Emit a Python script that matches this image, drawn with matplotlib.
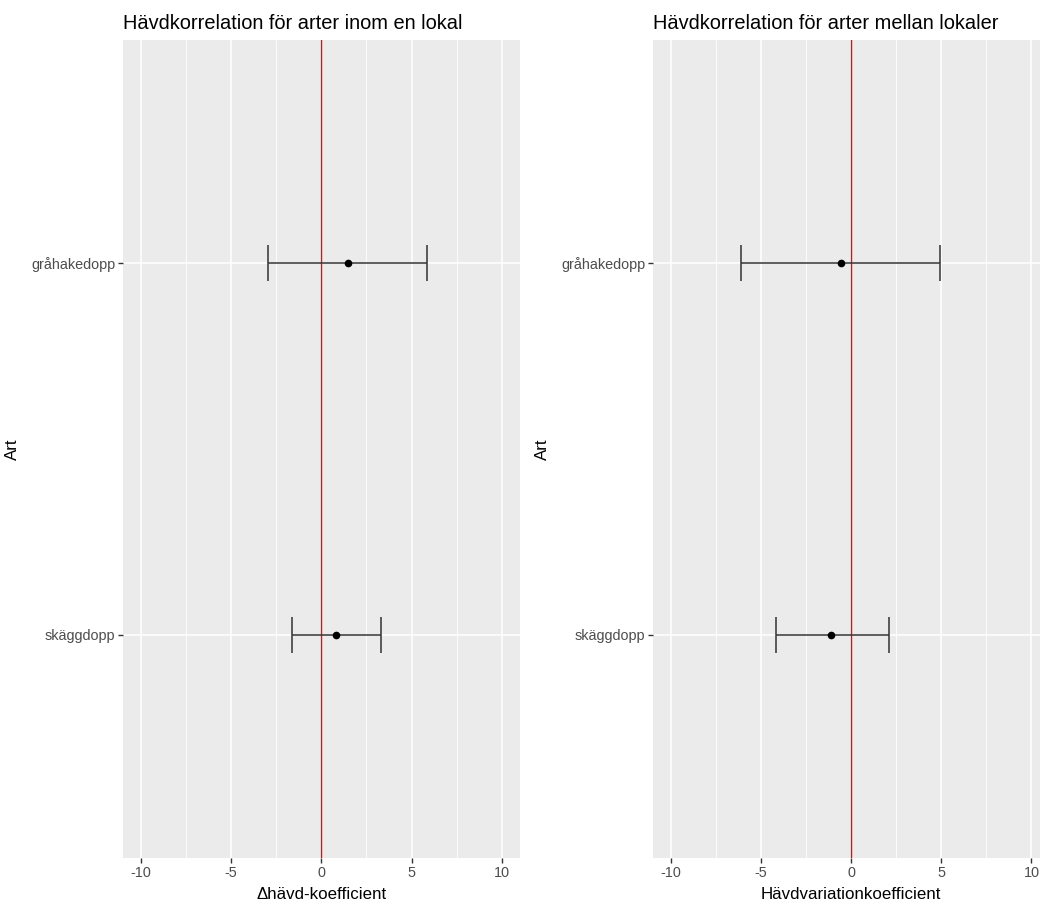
import numpy as np
import matplotlib.pyplot as plt

plt.rcParams['font.family'] = ['Liberation Sans', 'DejaVu Sans']

# species (bottom to top, as ggplot orders them)
arter = ['skäggdopp', 'gråhakedopp']

# left panel: within-site correlation
inom_est = [0.83, 1.47]
inom_low = [-1.63, -2.93]
inom_high = [3.28, 5.87]

# right panel: between-site correlation
mellan_est = [-1.09, -0.54]
mellan_low = [-4.17, -6.13]
mellan_high = [2.10, 4.94]

titles = ['Hävdkorrelation för arter inom en lokal', 'Hävdkorrelation för arter mellan lokaler']
xlabels = ['\u0394hävd-koefficient', 'Hävdvariationkoefficient']

fig = plt.figure(figsize=(10.4, 9.01), dpi=100)
W, H = 1040, 901
panels = [(122.7, 520.0), (652.7, 1049.5)]
top, bottom = 40, 858

data = [(inom_est, inom_low, inom_high), (mellan_est, mellan_low, mellan_high)]

for i, (l, r) in enumerate(panels):
    ax = fig.add_axes([l / W, (H - bottom) / H, (r - l) / W, (bottom - top) / H])
    est, low, high = data[i]
    y = np.arange(1, len(arter) + 1)
    est = np.array(est)
    xerr = [est - np.array(low), np.array(high) - est]

    ax.set_facecolor('#EBEBEB')
    for s in ax.spines.values():
        s.set_visible(False)

    # grid
    ax.set_xticks([-10, -5, 0, 5, 10])
    ax.set_xticks([-7.5, -2.5, 2.5, 7.5], minor=True)
    ax.set_yticks(y)
    ax.set_yticklabels(arter)
    ax.grid(True, which='major', color='white', linewidth=1.1)
    ax.grid(True, which='minor', axis='x', color='white', linewidth=0.6)
    ax.set_axisbelow(True)

    ax.axvline(0, color='#FF0000', linewidth=1.0, zorder=2)
    ax.errorbar(est, y, xerr=xerr, fmt='o', color='black', ecolor='#333333',
                elinewidth=1.1, capsize=13.3, capthick=1.1, markersize=4.5, zorder=3)

    ax.set_xlim(-11, 11)
    ax.set_ylim(0.4, 2.6)
    ax.tick_params(axis='both', which='major', length=3.5, width=1, color='#333333',
                   labelcolor='#4D4D4D', labelsize=10.4, pad=2)
    ax.tick_params(axis='x', which='minor', length=0)
    ax.set_xticklabels(['-10', '-5', '0', '5', '10'])

    ax.set_title(titles[i], loc='left', fontsize=14.4, color='black', pad=8)
    ax.set_xlabel(xlabels[i], fontsize=12.2, labelpad=5)
    ax.set_ylabel('Art', fontsize=12.2, labelpad=8)

fig.savefig('out.png', dpi=100)
